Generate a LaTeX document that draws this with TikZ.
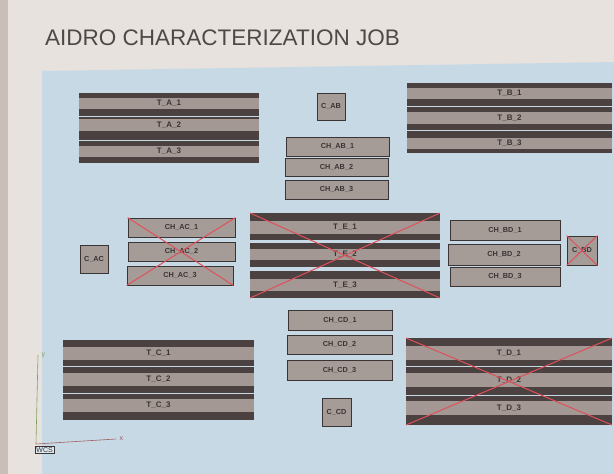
\documentclass[tikz,border=0pt]{standalone}
\usepackage{fontspec}
\setmainfont{Liberation Sans}
\definecolor{paper}{HTML}{E7E2DE}
\definecolor{edge}{HTML}{C9BFB8}
\definecolor{bluebg}{HTML}{C6D9E5}
\definecolor{darkband}{HTML}{4A4140}
\definecolor{lightband}{HTML}{A39893}
\definecolor{boxfill}{HTML}{A59C98}
\definecolor{inkc}{HTML}{3A3434}
\definecolor{xred}{HTML}{E0505A}
\definecolor{ygreen}{HTML}{7FA060}
\definecolor{xaxis}{HTML}{A06060}
\tikzset{
  trackbox/.style={draw=none, fill=darkband, inner sep=0pt, outer sep=0pt},
  bandbox/.style={draw=none, fill=lightband, inner sep=0pt, outer sep=0pt, text=inkc,
     font=\fontsize{8}{8}\selectfont\bfseries},
  chbox/.style={draw=inkc, line width=0.8pt, fill=boxfill, inner sep=0pt, text=inkc,
     font=\fontsize{7.3}{8}\selectfont\bfseries},
  crossline/.style={draw=xred, line width=1pt},
}
% \trk{name}{xl}{yt}{xr}{yb}{bandcentre y}{band height}{label}
\newcommand{\trk}[8]{%
  \node[trackbox, minimum width=#4pt-#2pt, minimum height=#5pt-#3pt, anchor=north west] (#1) at (#2,#3) {};
  \node[bandbox, minimum width=#4pt-#2pt, minimum height=#7pt] (#1b) at ({(#2+#4)/2},#6) {#8};
}
\begin{document}
\begin{tikzpicture}[x=1pt,y=-1pt]
\useasboundingbox (0,0) rectangle (614,474);
\fill[paper] (0,0) rectangle (614,474);
\fill[edge] (0,0) rectangle (8,474);
\fill[bluebg] (42,71) -- (614,62) -- (614,474) -- (42,474) -- cycle;
% title
\node[anchor=west, text=inkc!90, font=\fontsize{22.5}{26}\selectfont, inner sep=0pt] (title) at (45,38) {AIDRO CHARACTERIZATION JOB};

% T_A
\trk{ta1}{79}{93}{259}{116}{103.5}{11}{T\_A\_1}
\trk{ta2}{79}{117}{259}{140}{125}{12}{T\_A\_2}
\trk{ta3}{79}{141}{259}{163}{151}{11}{T\_A\_3}
% T_B
\trk{tb1}{407}{83}{612}{106}{93.5}{11}{T\_B\_1}
\trk{tb2}{407}{107}{612}{130}{118}{12}{T\_B\_2}
\trk{tb3}{407}{131}{612}{153}{143}{11}{T\_B\_3}
% T_E
\trk{te1}{250}{213}{440}{240}{227}{13}{T\_E\_1}
\trk{te2}{250}{243}{440}{267}{254.5}{11}{T\_E\_2}
\trk{te3}{250}{271}{440}{298}{285}{12}{T\_E\_3}
% T_C
\trk{tc1}{63}{340}{254}{366}{353}{13}{T\_C\_1}
\trk{tc2}{63}{367}{254}{393}{379}{13}{T\_C\_2}
\trk{tc3}{63}{394}{254}{420}{405}{13}{T\_C\_3}
% T_D
\trk{td1}{406}{338}{612}{366}{353}{14}{T\_D\_1}
\trk{td2}{406}{367}{612}{395}{380}{14}{T\_D\_2}
\trk{td3}{406}{396}{612}{425}{408}{14}{T\_D\_3}

% C boxes
\node[chbox, minimum width=28pt, minimum height=27pt] (cab) at (331,106.5) {C\_AB};
\node[chbox, minimum width=28pt, minimum height=28pt] (cac) at (94,259) {C\_AC};
\node[chbox, minimum width=30pt, minimum height=29pt] (cbd) at (582,250.5) {C\_BD};
\node[chbox, minimum width=29pt, minimum height=28pt] (ccd) at (336.5,412) {C\_CD};

% CH AB
\node[chbox, minimum width=103pt, minimum height=19pt] (chab1) at (337.5,146.5) {CH\_AB\_1};
\node[chbox, minimum width=103pt, minimum height=18pt] (chab2) at (336.5,167) {CH\_AB\_2};
\node[chbox, minimum width=103pt, minimum height=19pt] (chab3) at (336.5,189.5) {CH\_AB\_3};
% CH AC
\node[chbox, minimum width=107pt, minimum height=19pt] (chac1) at (181.5,227.5) {CH\_AC\_1};
\node[chbox, minimum width=107pt, minimum height=19pt] (chac2) at (181.5,251.5) {CH\_AC\_2};
\node[chbox, minimum width=106pt, minimum height=19pt] (chac3) at (180,275.5) {CH\_AC\_3};
% CH BD
\node[chbox, minimum width=110pt, minimum height=20pt] (chbd1) at (505,230) {CH\_BD\_1};
\node[chbox, minimum width=112pt, minimum height=21pt] (chbd2) at (504,254.5) {CH\_BD\_2};
\node[chbox, minimum width=110pt, minimum height=19pt] (chbd3) at (505,276.5) {CH\_BD\_3};
% CH CD
\node[chbox, minimum width=104pt, minimum height=20pt] (chcd1) at (340,320) {CH\_CD\_1};
\node[chbox, minimum width=105pt, minimum height=19pt] (chcd2) at (339.5,344.5) {CH\_CD\_2};
\node[chbox, minimum width=105pt, minimum height=20pt] (chcd3) at (339.5,370) {CH\_CD\_3};

% red crosses
\draw[crossline] (chac1.north west) -- (chac3.south east);
\draw[crossline] (chac1.north east) -- (chac3.south west);
\draw[crossline] (te1.north west) -- (te3.south east);
\draw[crossline] (te1.north east) -- (te3.south west);
\draw[crossline] (td1.north west) -- (td3.south east);
\draw[crossline] (td1.north east) -- (td3.south west);
\draw[crossline] (cbd.north west) -- (cbd.south east);
\draw[crossline] (cbd.north east) -- (cbd.south west);

% WCS
\coordinate (o) at (36,444);
\coordinate (yend) at (38,355);
\coordinate (xend) at (116,439);
\draw[ygreen, line width=0.6pt] (o) -- (yend);
\draw[xaxis, line width=0.6pt] (o) -- (xend);
\node[text=ygreen, font=\fontsize{7}{7}\selectfont, anchor=west] (ylab) at (yend) {y};
\node[text=xaxis, font=\fontsize{7}{7}\selectfont, anchor=west] (xlab) at (xend) {x};
\node[draw=inkc, line width=0.5pt, fill=bluebg!60!white, inner sep=1.2pt, text=inkc, font=\fontsize{7}{7}\selectfont, anchor=north west] (wcs) at (35,446) {WCS};
\end{tikzpicture}
\end{document}
